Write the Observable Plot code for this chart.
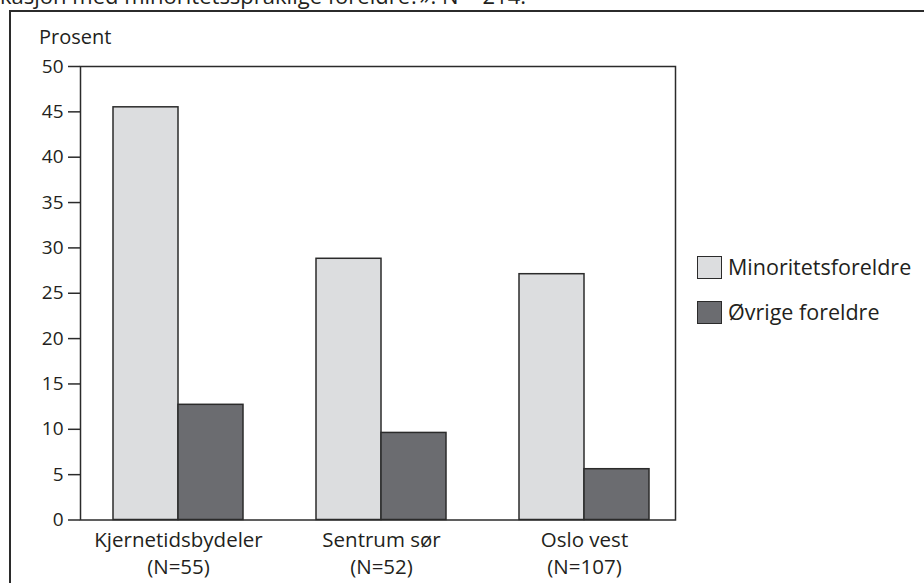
<!DOCTYPE html>
<html>
<head>
<meta charset="utf-8">
<script src="https://cdn.jsdelivr.net/npm/d3@7"></script>
<script src="https://cdn.jsdelivr.net/npm/@observablehq/plot@0.6"></script>
<style>
  html, body { margin: 0; padding: 0; background: #fff; }
  #wrap { position: relative; width: 924px; height: 583px; overflow: hidden; font-family: "Open Sans", "Noto Sans", sans-serif; color: #231f20; }
  #wrap svg { position: absolute; left: 0; top: 0; }
  .note { position: absolute; white-space: nowrap; line-height: 1; }
  #outer { position: absolute; left: 9px; top: 10px; width: 940px; height: 600px; border-left: 2.5px solid #2b2b2b; border-top: 2.5px solid #2b2b2b; box-sizing: border-box; }
  .sw { position: absolute; width: 25px; height: 23px; border: 1.5px solid #2b2b2b; box-sizing: border-box; }
</style>
</head>
<body>
<div id="wrap"></div>
<script>
const categories = ["Kjernetidsbydeler", "Sentrum sør", "Oslo vest"];
const nLabels = ["(N=55)", "(N=52)", "(N=107)"];
const series = ["Minoritetsforeldre", "Øvrige foreldre"];
const minoritetsforeldre = [45.5, 28.8, 27.1];
const ovrigeForeldre = [12.7, 9.6, 5.6];
const yTicks = [0, 5, 10, 15, 20, 25, 30, 35, 40, 45, 50];
const colors = ["#dcdddf", "#6b6c70"];
const headText = "kasjon med minoritetsspråklige foreldre?». N = 214.";
const yLabel = "Prosent";

const data = categories.flatMap((c, i) => [
  {cat: c, series: series[0], value: minoritetsforeldre[i]},
  {cat: c, series: series[1], value: ovrigeForeldre[i]}
]);

const chart = Plot.plot({
  width: 924,
  height: 583,
  marginLeft: 80,
  marginRight: 249,
  marginTop: 66,
  marginBottom: 63.5,
  style: {fontFamily: '"Open Sans", "Noto Sans", sans-serif', fontSize: "19px", color: "#231f20", background: "transparent"},
  x: {domain: categories, range: [75.25, 685.75], paddingInner: 0.361, paddingOuter: 0.1805},
  y: {domain: [0, 50]},
  color: {domain: series, range: colors},
  marks: [
    Plot.barY(data.filter(d => d.series === series[0]), {x: "cat", y: "value", fill: "series", stroke: "#2b2b2b", strokeWidth: 1.5, insetLeft: 0, insetRight: 65}),
    Plot.barY(data.filter(d => d.series === series[1]), {x: "cat", y: "value", fill: "series", stroke: "#2b2b2b", strokeWidth: 1.5, insetLeft: 65, insetRight: 0}),
    Plot.frame({stroke: "#2b2b2b", strokeWidth: 1.5}),
    Plot.axisY({ticks: yTicks, tickSize: 12, tickPadding: 5, fontSize: 19, label: null, stroke: "#2b2b2b", strokeWidth: 1.5}),
    Plot.axisX({tickSize: 0, tickPadding: 8, fontSize: 20.5, lineHeight: 1.3, label: null,
      tickFormat: (d) => d + "\n" + nLabels[categories.indexOf(d)]})
  ]
});

const wrap = document.getElementById("wrap");
const outer = document.createElement("div");
outer.id = "outer";
wrap.appendChild(outer);
wrap.appendChild(chart);

function note(text, left, top, size) {
  const el = document.createElement("div");
  el.className = "note";
  el.textContent = text;
  el.style.left = left + "px";
  el.style.top = top + "px";
  el.style.fontSize = size + "px";
  wrap.appendChild(el);
  return el;
}
note(headText, 0, -16, 22);
note(yLabel, 39, 27, 20);
series.forEach((s, i) => {
  const sw = document.createElement("div");
  sw.className = "sw";
  sw.style.left = "697px";
  sw.style.top = (256 + i * 45) + "px";
  sw.style.background = colors[i];
  wrap.appendChild(sw);
  note(s, 728, 256 + i * 45, 21.5);
});
</script>
</body>
</html>
